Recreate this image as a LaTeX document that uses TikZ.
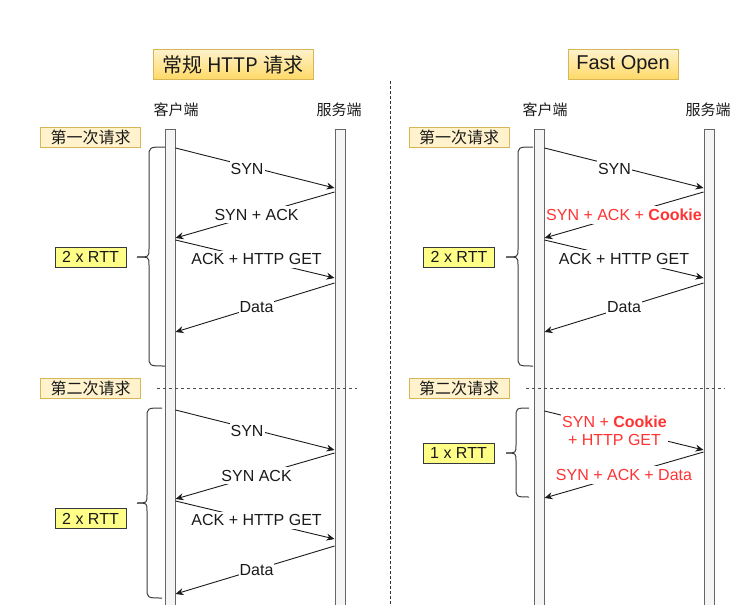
\documentclass[tikz,border=0pt]{standalone}
\usepackage{fontspec}
\setmainfont{Liberation Sans}
\newfontfamily\cjk{Noto Sans CJK SC}
\usetikzlibrary{arrows.meta}
\definecolor{lifegray}{HTML}{666666}
\definecolor{lifefill}{HTML}{F5F5F5}
\definecolor{goldedge}{HTML}{D6B656}
\definecolor{goldlight}{HTML}{FFF2CC}
\definecolor{golddeep}{HTML}{FFD966}
\definecolor{rttfill}{HTML}{FFFF88}
\definecolor{rttedge}{HTML}{36393D}
\definecolor{msgred}{HTML}{FF3333}
\definecolor{inkc}{HTML}{1A1A1A}
\newcommand\rttbrace[6]{%
  \draw[bracestyle] (#1,#4) .. controls (#2,#4) .. (#2,#4+10) -- (#2,#5-8) .. controls (#2,#5) .. (#3,#5);
  \draw[bracestyle] (#3,#5) .. controls (#2,#5) .. (#2,#5+8) -- (#2,#6-10) .. controls (#2,#6) .. (#1,#6);}
\begin{document}
\begin{tikzpicture}[x=1pt,y=-1pt,
  lifeline/.style={draw=lifegray,fill=lifefill,line width=1pt,minimum width=10pt,minimum height=490pt,inner sep=0pt,anchor=north},
  titlebox/.style={draw=goldedge,top color=goldlight,bottom color=golddeep,minimum height=30pt,inner sep=0pt,text=inkc,font=\fontsize{20}{24}\selectfont},
  reqbox/.style={draw=goldedge,fill=goldlight,minimum width=100pt,minimum height=20pt,inner sep=0pt,text=inkc,font=\cjk\fontsize{16}{18}\selectfont},
  rttbox/.style={draw=rttedge,fill=rttfill,minimum width=71pt,minimum height=20pt,inner sep=0pt,text=inkc,font=\fontsize{16}{18}\selectfont},
  head/.style={text=inkc,font=\cjk\fontsize{15}{18}\selectfont},
  msg/.style={-{Stealth[length=8pt,width=7pt]},line width=0.9pt,draw=inkc},
  lbl/.style={fill=white,inner xsep=1pt,inner ysep=3pt,text=inkc,font=\fontsize{16}{18}\selectfont},
  redlbl/.style={lbl,text=msgred},
  bracestyle/.style={draw=inkc!85,line width=1pt},
  sepline/.style={draw=black!70,line width=0.9pt,dash pattern=on 3pt off 3pt}
]
\useasboundingbox (0,0) rectangle (750,605);

% divider
\coordinate (divtop) at (390,81);
\coordinate (divbot) at (390,605);
\draw[draw=black!80,line width=0.9pt,dash pattern=on 2.5pt off 2.5pt] (divtop) -- (divbot);

% titles
\node[titlebox,minimum width=160pt] (t1) at (233,64.5) {\cjk 常规 HTTP 请求};
\node[titlebox,minimum width=110pt] (t2) at (623,64.5) {Fast Open};

% headers
\node[head] (h1) at (176,110) {客户端};
\node[head] (h2) at (339,110) {服务端};
\node[head] (h3) at (545,110) {客户端};
\node[head] (h4) at (708,110) {服务端};

% lifelines
\node[lifeline] (cl) at (170,129) {};
\node[lifeline] (sl) at (340,129) {};
\node[lifeline] (cr) at (539,129) {};
\node[lifeline] (sr) at (709,129) {};

% request boxes
\node[reqbox] (q1) at (90.5,137) {第一次请求};
\node[reqbox] (q2) at (459,137) {第一次请求};
\node[reqbox] (q3) at (90.5,388) {第二次请求};
\node[reqbox] (q4) at (459,388) {第二次请求};

% separators
\coordinate (s1a) at (157,388); \coordinate (s1b) at (357,388);
\coordinate (s2a) at (526,388); \coordinate (s2b) at (725,388);
\draw[sepline] (s1a) -- (s1b);
\draw[sepline] (s2a) -- (s2b);

% RTT boxes
\node[rttbox] (r1) at (90.5,257) {2 x RTT};
\node[rttbox] (r2) at (90.5,518.5) {2 x RTT};
\node[rttbox] (r3) at (459,257) {2 x RTT};
\node[rttbox] (r4) at (458.5,453) {1 x RTT};

% braces
\rttbrace{165}{149}{137}{147}{257}{366}
\rttbrace{162}{147}{137}{408}{503}{598}
\rttbrace{533}{518}{506}{147}{257}{366}
\rttbrace{529}{516}{506}{408}{453}{497}

% left, first request
\draw[msg] (cl.east |- 0,148) -- node[lbl,pos=0.45,yshift=-3pt] {SYN} (sl.west |- 0,188);
\draw[msg] (sl.west |- 0,192) -- node[lbl,pos=0.49] {SYN + ACK} (cl.east |- 0,238);
\draw[msg] (cl.east |- 0,240) -- node[lbl,pos=0.51] {ACK + HTTP GET} (sl.west |- 0,278);
\draw[msg] (sl.west |- 0,283) -- node[lbl,pos=0.49] {Data} (cl.east |- 0,332);

% left, second request
\draw[msg] (cl.east |- 0,410) -- node[lbl,pos=0.45,yshift=-3pt] {SYN} (sl.west |- 0,450);
\draw[msg] (sl.west |- 0,453) -- node[lbl,pos=0.49] {SYN ACK} (cl.east |- 0,499);
\draw[msg] (cl.east |- 0,501) -- node[lbl,pos=0.51] {ACK + HTTP GET} (sl.west |- 0,539);
\draw[msg] (sl.west |- 0,546) -- node[lbl,pos=0.49,yshift=-1pt] {Data} (cl.east |- 0,594);

% right, first request
\draw[msg] (cr.east |- 0,148) -- node[lbl,pos=0.44,yshift=-3pt] {SYN} (sr.west |- 0,188);
\draw[msg] (sr.west |- 0,192) -- node[redlbl,pos=0.5,inner xsep=0pt] {SYN + ACK + \textbf{Cookie}} (cr.east |- 0,238);
\draw[msg] (cr.east |- 0,240) -- node[lbl,pos=0.5] {ACK + HTTP GET} (sr.west |- 0,278);
\draw[msg] (sr.west |- 0,283) -- node[lbl,pos=0.5] {Data} (cr.east |- 0,332);

% right, second request
\draw[msg] (cr.east |- 0,411) -- node[redlbl,pos=0.44,align=center,yshift=-3pt] {SYN + \textbf{Cookie}\\+ HTTP GET} (sr.west |- 0,450);
\draw[msg] (sr.west |- 0,452) -- node[redlbl,pos=0.5] {SYN + ACK + Data} (cr.east |- 0,498);
\end{tikzpicture}
\end{document}
